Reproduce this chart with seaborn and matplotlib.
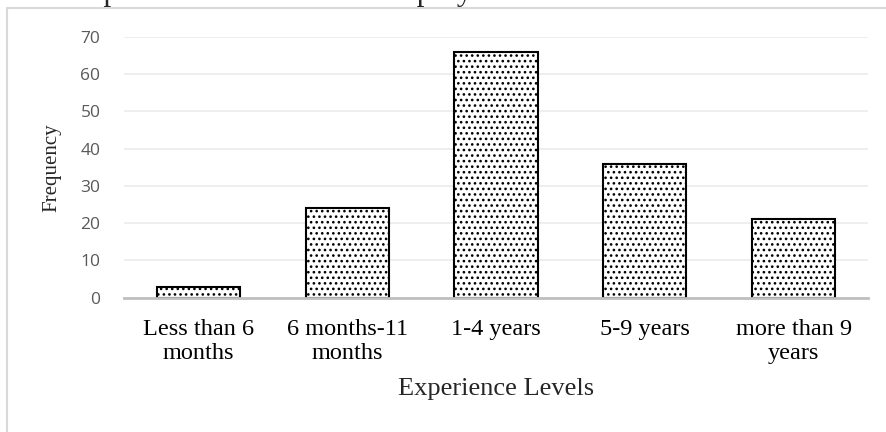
import matplotlib
matplotlib.use("Agg")
import matplotlib.pyplot as plt
import seaborn as sns
import pandas as pd
from matplotlib.lines import Line2D

categories = ["Less than 6\nmonths", "6 months-11\nmonths", "1-4 years", "5-9 years", "more than 9\nyears"]
frequency = [3, 24, 66, 36, 21]
y_ticks = [0, 10, 20, 30, 40, 50, 60, 70]
caption = "Figure 5: Experience levels of the employees"

df = pd.DataFrame({"Experience Levels": categories, "Frequency": frequency})

sns.set_theme(style="white")
plt.rcParams["hatch.linewidth"] = 1.1
plt.rcParams["hatch.color"] = "black"

fig = plt.figure(figsize=(8.87, 4.32), dpi=100)
ax = fig.add_axes([124/887, 1-297.7/432, 744/887, (297.7-37)/432])

sns.barplot(data=df, x="Experience Levels", y="Frequency", ax=ax,
            color="white", edgecolor="black", linewidth=1.5, width=0.56,
            hatch="...", saturation=1)

ax.set_ylim(0, 70)
ax.set_xlim(-0.5, 4.5)
ax.set_yticks(y_ticks)
ax.set_yticklabels([str(v) for v in y_ticks], family="Open Sans", fontsize=12.5, color="#595959")
ax.tick_params(axis="y", length=0, pad=17)
ax.tick_params(axis="x", length=0, pad=15)
for lab in ax.get_xticklabels():
    lab.set_family("Liberation Serif")
    lab.set_fontsize(17.5)
    lab.set_color("black")
    lab.set_linespacing(1.2)

ax.yaxis.grid(True, color="#ebebeb", linewidth=1.2)
ax.set_axisbelow(True)
for side in ["top", "right", "left"]:
    ax.spines[side].set_visible(False)
ax.spines["bottom"].set_color("#bfbfbf")
ax.spines["bottom"].set_linewidth(2)
ax.spines["bottom"].set_zorder(5)

ax.set_xlabel("Experience Levels", family="Liberation Serif", fontsize=19, labelpad=10)
ax.set_ylabel("Frequency", family="Liberation Serif", fontsize=15, labelpad=14)

# chart border (partially visible)
fig.add_artist(Line2D([7/887, 7/887], [0, 1-8/432], transform=fig.transFigure, color="#d9d9d9", linewidth=1.5))
fig.add_artist(Line2D([7/887, 1], [1-8/432, 1-8/432], transform=fig.transFigure, color="#d9d9d9", linewidth=1.5))

# clipped caption above
fig.text(-53/887, 1.0, caption, family="Liberation Serif", fontsize=22.5, ha="left", va="baseline")

fig.savefig("out.png", dpi=100)
